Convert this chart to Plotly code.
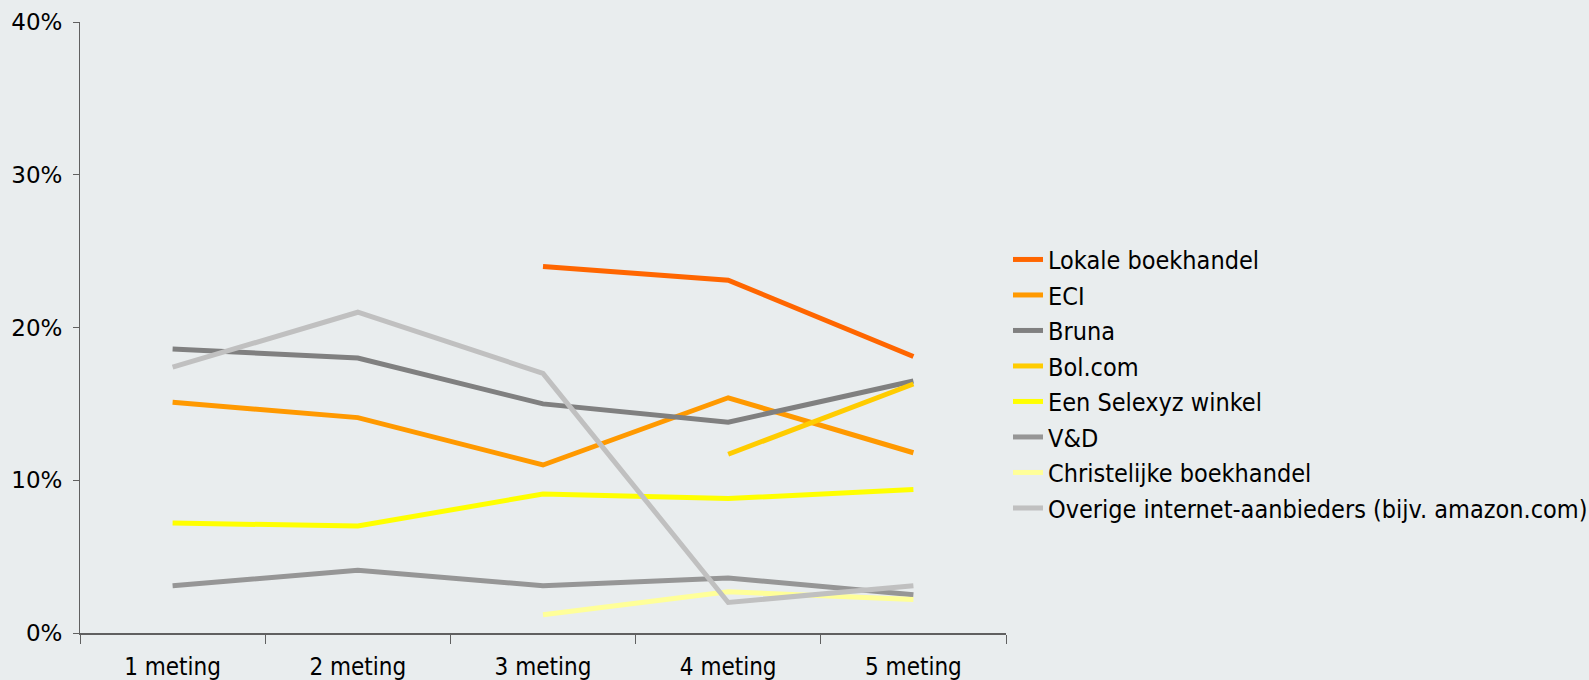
import plotly.graph_objects as go

categories = ["1 meting", "2 meting", "3 meting", "4 meting", "5 meting"]

series_names = [
    "Lokale boekhandel",
    "ECI",
    "Bruna",
    "Bol.com",
    "Een Selexyz winkel",
    "V&D",
    "Christelijke boekhandel",
    "Overige internet-aanbieders (bijv. amazon.com)",
]

lokale = [None, None, 0.240, 0.231, 0.181]
eci = [0.151, 0.141, 0.110, 0.154, 0.118]
bruna = [0.186, 0.180, 0.150, 0.138, 0.165]
bolcom = [None, None, None, 0.117, 0.163]
selexyz = [0.072, 0.070, 0.091, 0.088, 0.094]
vd = [0.031, 0.041, 0.031, 0.036, 0.025]
christelijk = [None, None, 0.012, 0.027, 0.022]
overige = [0.174, 0.210, 0.170, 0.020, 0.031]

colors = ["#FF6600", "#FF9900", "#808080", "#FFCC00", "#FFFF00", "#969696", "#FFFF99", "#C0C0C0"]

values = [lokale, eci, bruna, bolcom, selexyz, vd, christelijk, overige]

fig = go.Figure()
for name, vals, col in zip(series_names, values, colors):
    fig.add_trace(go.Scatter(
        x=categories, y=vals, name=name, mode="lines",
        line=dict(color=col, width=5), connectgaps=False,
    ))

bg = "#E9EDEE"
cond = "DejaVu Sans Condensed, DejaVu Sans"
fig.update_layout(
    width=1589, height=680,
    paper_bgcolor=bg, plot_bgcolor=bg,
    margin=dict(l=80, r=583, t=22, b=47, autoexpand=False),
    font=dict(family="DejaVu Sans", size=24, color="#000000"),
    showlegend=True,
    legend=dict(
        xref="container", x=1008 / 1589, y=0.408, xanchor="left", yanchor="middle",
        font=dict(family=cond, size=25),
        tracegroupgap=0, itemwidth=30,
        bgcolor="rgba(0,0,0,0)",
    ),
)
fig.update_xaxes(
    type="category", range=[-0.5, 4.5], automargin=False,
    showline=True, linecolor="#606060", linewidth=2,
    ticks="outside", tickson="boundaries", ticklen=9, tickcolor="#606060", tickwidth=1,
    showgrid=False, zeroline=False,
    tickfont=dict(family=cond, size=24),
    ticklabelstandoff=11,
)
fig.update_yaxes(
    range=[0, 0.4], dtick=0.1, tickformat=".0%", automargin=False,
    showline=True, linecolor="#606060", linewidth=1,
    ticks="outside", ticklen=6, tickcolor="#606060",
    showgrid=False, zeroline=False,
    tickfont=dict(family="DejaVu Sans", size=23),
    ticklabelstandoff=6,
)

fig.write_html(
    "out.html",
    config={"displayModeBar": False},
    post_script="document.body.style.margin='0';document.body.style.background='%s';" % bg,
)
